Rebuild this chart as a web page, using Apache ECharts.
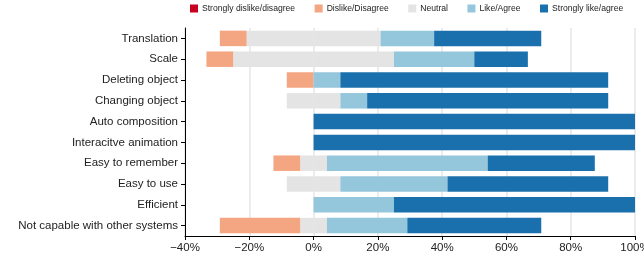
<!DOCTYPE html>
<html>
<head>
<meta charset="utf-8">
<script src="https://cdn.jsdelivr.net/npm/echarts@6/dist/echarts.min.js"></script>
<style>
  html, body { margin: 0; padding: 0; background: #fff; }
  #container { width: 644px; height: 260px; }
</style>
</head>
<body>
<div id="container"></div>
<script>
// questions, top to bottom
var categories = ['Translation', 'Scale', 'Deleting object', 'Changing object', 'Auto composition',
    'Interacitve animation', 'Easy to remember', 'Easy to use', 'Efficient', 'Not capable with other systems'];

// share of answers, percent
var stronglyDislike = [0, 0, 0, 0, 0, 0, 0, 0, 0, 0];
var dislike         = [8.33, 8.33, 8.33, 0, 0, 0, 8.33, 0, 0, 25];
var neutral         = [41.67, 50, 0, 16.67, 0, 0, 8.33, 16.67, 0, 8.33];
var like            = [16.67, 25, 8.33, 8.33, 0, 0, 50, 33.33, 25, 25];
var stronglyLike    = [33.33, 16.67, 83.33, 75, 100, 100, 33.33, 50, 75, 41.67];

var xTicks = [-40, -20, 0, 20, 40, 60, 80, 100];

var names = ['Strongly dislike/disagree', 'Dislike/Disagree', 'Neutral', 'Like/Agree', 'Strongly like/agree'];
var colors = ['#ca0020', '#f4a582', '#e4e4e4', '#94c6dc', '#1a70ad'];

function neg(arr) {
    return arr.map(function (v) { return -v; });
}
function half(arr, sign) {
    return arr.map(function (v) { return sign * v / 2; });
}

var font = 'Liberation Sans, Arial, Helvetica, sans-serif';

function bar(name, color, data) {
    return {
        name: name,
        type: 'bar',
        stack: 'total',
        barWidth: 15.5,
        itemStyle: { color: color },
        emphasis: { disabled: true },
        data: data
    };
}

var myChart = echarts.init(document.getElementById('container'));
var option = {
    animation: false,
    textStyle: { fontFamily: font },
    legend: {
        data: names,
        left: 190,
        top: 4,
        padding: 0,
        itemWidth: 8,
        itemHeight: 8,
        itemGap: 19.5,
        icon: 'rect',
        textStyle: { fontSize: 8.6, color: '#222', fontFamily: font, padding: [0, 0, 0, -1] }
    },
    grid: {
        left: 185,
        right: 9,
        top: 28,
        bottom: 24,
        outerBoundsMode: 'none'
    },
    xAxis: {
        type: 'value',
        min: xTicks[0],
        max: xTicks[xTicks.length - 1],
        interval: 20,
        axisLine: { show: true, onZero: false, lineStyle: { color: '#000', width: 1 } },
        axisTick: { show: true, length: 4, lineStyle: { color: '#000' } },
        axisLabel: {
            margin: 6,
            fontSize: 11.5,
            color: '#222',
            fontFamily: font,
            formatter: function (v) {
                return (v < 0 ? '\u2212' + Math.abs(v) : v) + '%';
            }
        },
        splitLine: { show: true, lineStyle: { color: '#e6e6e6', width: 1.5 } }
    },
    yAxis: {
        type: 'category',
        inverse: true,
        data: categories,
        axisLine: { show: true, onZero: false, lineStyle: { color: '#000', width: 1 } },
        axisTick: { show: true, length: 4, alignWithLabel: true, lineStyle: { color: '#000' } },
        axisLabel: { margin: 7, fontSize: 11.5, color: '#222', fontFamily: font },
        splitLine: { show: false }
    },
    series: [
        // left side, stacked outward from zero
        bar(names[2], colors[2], half(neutral, -1)),
        bar(names[1], colors[1], neg(dislike)),
        bar(names[0], colors[0], neg(stronglyDislike)),
        // right side
        bar(names[2], colors[2], half(neutral, 1)),
        bar(names[3], colors[3], like),
        bar(names[4], colors[4], stronglyLike)
    ]
};
myChart.setOption(option, true);
</script>
</body>
</html>
